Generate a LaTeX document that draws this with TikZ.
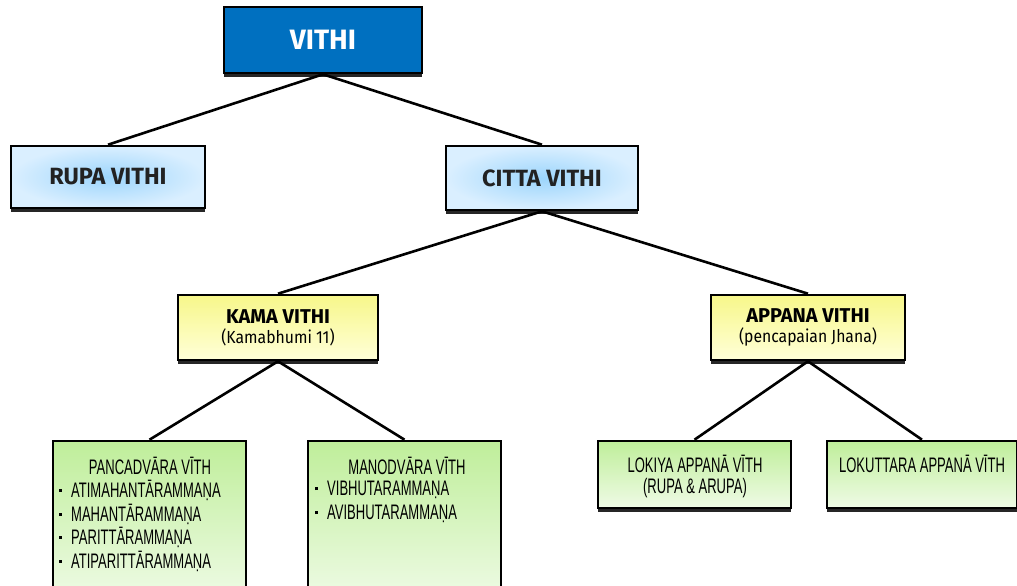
\documentclass[tikz,border=0pt]{standalone}
\usepackage{fontspec}
\setmainfont{Fira Sans}
\newfontfamily\narrowfont[FakeStretch=0.62]{Liberation Sans}
\newfontfamily\subfont[FakeStretch=0.9]{Fira Sans}
\newcommand\subtxt[1]{{\subfont\mdseries\fontsize{17.5}{19}\selectfont #1}}
\newcommand\bul{\rule[5.5pt]{3pt}{3pt}\hspace{9pt}}
\usetikzlibrary{shadows,backgrounds}
\definecolor{topblue}{HTML}{0070C0}
\definecolor{lbin}{HTML}{9CD5FC}
\definecolor{lbout}{HTML}{DAEFFF}
\definecolor{ytop}{HTML}{F7F78A}
\definecolor{ybot}{HTML}{FFFFD8}
\definecolor{gtop}{HTML}{BFEE9A}
\definecolor{gbot}{HTML}{EFFBE6}
\definecolor{darktext}{HTML}{222222}
\tikzset{
  boxbase/.style={draw=black, line width=2.6pt, rectangle, inner sep=0pt,
    drop shadow={shadow xshift=0pt, shadow yshift=-3.5pt, fill=black, opacity=0.85}},
  topbox/.style={boxbase, fill=topblue, text=white, font=\bfseries\fontsize{28}{30}\selectfont},
  bluebox/.style={boxbase, inner color=lbin, outer color=lbout, text=darktext,
    font=\bfseries\fontsize{23.5}{26}\selectfont},
  yellowbox/.style={boxbase, top color=ytop, bottom color=ybot, align=center,
    font=\bfseries\fontsize{20}{24}\selectfont},
  greenbox/.style={boxbase, top color=gtop, bottom color=gbot},
  conn/.style={draw=black, line width=2.6pt},
  gtext/.style={inner sep=0pt, font=\narrowfont\fontsize{21}{23}\selectfont},
  gitem/.style={gtext, anchor=west}
}
\begin{document}
\begin{tikzpicture}[x=1pt,y=-1pt]
\useasboundingbox (0,0) rectangle (1017,586);
\clip (0,0) rectangle (1017,586);
% boxes
\node[topbox, minimum width=198pt, minimum height=66pt] (vithi) at (323,40) {VITHI};
\node[bluebox, minimum width=194pt, minimum height=62pt] (rupa) at (108,177) {RUPA VITHI};
\node[bluebox, minimum width=192pt, minimum height=64pt] (citta) at (542,178) {CITTA VITHI};
\node[yellowbox, minimum width=200pt, minimum height=65pt] (kama) at (278,327.5) {KAMA VITHI\\[-4pt]\subtxt{(Kamabhumi 11)}};
\node[yellowbox, minimum width=194pt, minimum height=65pt] (appana) at (808,327.5) {APPANA VITHI\\[-4pt]\subtxt{(pencapaian Jhana)}};
\node[greenbox, minimum width=193pt, minimum height=160pt] (panca) at (149.5,521) {};
\node[greenbox, minimum width=193pt, minimum height=160pt] (mano) at (404.5,521) {};
\node[greenbox, minimum width=193pt, minimum height=67pt] (lokiya) at (694.5,474.5) {};
\node[greenbox, minimum width=190pt, minimum height=67pt] (lokut) at (922,474.5) {};
% connectors
\begin{scope}[on background layer]
\fill[white] (0,0) rectangle (1017,586);
\draw[conn] (vithi.south) -- (rupa.north);
\draw[conn] (vithi.south) -- (citta.north);
\draw[conn] (citta.south) -- (kama.north);
\draw[conn] (citta.south) -- (appana.north);
\draw[conn] (kama.south) -- (panca.north);
\draw[conn] (kama.south) -- (mano.north);
\draw[conn] (appana.south) -- (lokiya.north);
\draw[conn] (appana.south) -- (lokut.north);
\end{scope}
% green texts
\node[gtext] (pt) at (150,466) {PANCADVĀRA VĪTH};
\node[gitem] (p1) at (59,490) {\bul ATIMAHANTĀRAMMAṆA};
\node[gitem] (p2) at (59,514) {\bul MAHANTĀRAMMAṆA};
\node[gitem] (p3) at (59,537) {\bul PARITTĀRAMMAṆA};
\node[gitem] (p4) at (59,561) {\bul ATIPARITTĀRAMMAṆA};
\node[gtext] (mt) at (407,466) {MANODVĀRA VĪTH};
\node[gitem] (m1) at (315,490) {\bul VIBHUTARAMMAṆA};
\node[gitem] (m2) at (315,514) {\bul AVIBHUTARAMMAṆA};
\node[gtext] (lt1) at (695,464) {LOKIYA APPANĀ VĪTH};
\node[gtext] (lt2) at (695,488) {(RUPA \& ARUPA)};
\node[gtext] (kt) at (922,464) {LOKUTTARA APPANĀ VĪTH};
\end{tikzpicture}
\end{document}
